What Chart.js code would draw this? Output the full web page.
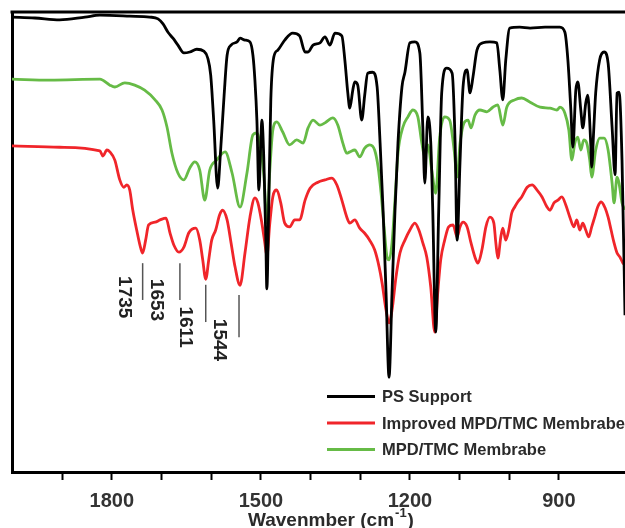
<!DOCTYPE html>
<html>
<head>
<meta charset="utf-8">
<script src="https://cdn.jsdelivr.net/npm/chart.js@4/dist/chart.umd.min.js"></script>
<style>
  html, body { margin: 0; padding: 0; background: #fff; }
  canvas { display: block; }
</style>
</head>
<body>
<canvas id="ftir" width="625" height="528"></canvas>
<script>
// FTIR spectra, wavenumber (cm-1) vs relative transmittance (%)
const psWave = [2001,1955,1905,1854,1824,1764,1724,1707,1697,1687,1677,1667,1655,1643,1629,1615,1607,1601,1595,1587,1581,1574,1568,1560,1548,1542,1532,1522,1516,1512,1508,1504,1500,1498,1494,1490,1488,1484,1480,1474,1466,1452,1436,1422,1411,1405,1395,1381,1371,1361,1351,1337,1331,1325,1321,1315,1311,1305,1297,1291,1285,1275,1266,1260,1254,1248,1242,1236,1230,1224,1216,1210,1200,1190,1180,1174,1170,1164,1158,1154,1148,1142,1136,1126,1115,1109,1105,1099,1093,1085,1079,1073,1065,1053,1039,1025,1019,1013,1007,999,979,958,928,898,888,882,876,872,866,862,856,852,846,842,836,834,830,826,818,809,801,793,787,783,779,773,767]
const psT = [98.9,98.7,98.3,98.9,99.3,99.1,98.9,98.5,97.4,95.6,94.3,92.8,91.1,91.3,91.9,91.5,90.0,86.3,76.5,61.7,70.0,81.9,90.6,92.8,93.5,94.3,93.9,93.5,90.6,85.2,76.5,61.3,72.2,76.5,67.8,50.4,39.8,59.1,80.9,90.2,91.7,93.9,95.4,94.8,91.3,91.3,92.8,93.3,94.6,92.8,95.4,94.8,89.6,82.4,79.1,83.0,84.8,84.1,76.5,81.9,86.7,86.9,83.7,71.5,56.9,38.9,20.6,38.9,56.9,71.5,83.7,86.9,93.3,93.5,91.1,75.0,62.8,77.2,71.5,56.9,30.4,56.9,82.4,87.8,86.7,71.5,50.4,67.8,83.7,87.4,82.4,85.9,91.7,93.3,93.5,93.3,87.4,80.9,89.6,96.5,96.7,96.5,96.7,96.7,95.6,89.6,78.7,70.6,83.0,84.8,78.7,74.8,80.2,81.9,71.5,66.3,74.3,82.4,89.6,91.3,88.9,75.0,64.6,82.4,82.6,67.8,34.1]

const impWave = [2001,1905,1824,1818,1810,1804,1794,1784,1776,1770,1764,1758,1750,1742,1738,1732,1726,1713,1703,1691,1683,1675,1665,1655,1645,1631,1623,1617,1611,1605,1599,1591,1583,1577,1568,1560,1552,1542,1532,1522,1512,1506,1498,1492,1488,1482,1476,1468,1460,1452,1442,1432,1422,1411,1401,1385,1371,1357,1347,1337,1327,1321,1311,1301,1291,1281,1271,1262,1256,1248,1242,1236,1228,1220,1210,1200,1190,1182,1174,1166,1158,1150,1144,1138,1130,1122,1113,1105,1099,1093,1085,1077,1069,1063,1055,1047,1039,1031,1027,1023,1017,1013,1007,1001,995,989,983,975,964,954,944,934,924,918,910,902,894,886,878,870,864,858,852,846,840,834,828,822,815,807,801,795,789,783,777,771,767]
const impT = [70.9,70.6,69.8,68.7,70.0,69.6,67.8,63.5,61.9,62.4,61.3,57.0,52.6,48.7,47.6,50.4,53.7,54.3,54.8,55.2,52.0,49.3,47.8,48.9,52.0,53.0,50.4,46.1,41.9,46.1,50.4,52.6,55.9,56.9,54.8,49.8,44.6,40.6,47.6,55.4,59.6,58.5,54.1,49.8,46.9,54.1,59.8,61.3,58.5,54.1,53.3,54.8,54.8,59.1,61.7,63.0,63.5,63.9,62.4,59.1,55.4,54.1,54.8,53.0,51.9,50.4,48.3,44.6,41.1,35.2,32.4,35.2,42.4,47.6,50.4,52.6,54.1,52.6,49.8,46.7,40.2,30.4,38.9,46.1,50.4,53.3,53.7,51.1,53.3,54.3,53.3,49.8,46.7,45.4,48.3,53.3,55.4,54.1,49.8,46.5,51.1,53.0,50.4,52.6,56.3,57.6,58.7,59.8,61.9,62.4,61.3,59.8,57.6,56.9,58.5,59.1,59.8,58.0,55.4,53.3,54.8,52.6,54.1,52.6,51.1,53.3,55.4,57.6,58.7,57.4,55.4,52.6,49.8,47.6,46.7,45.4,45.0]

const mpdWave = [2001,1925,1824,1804,1794,1774,1754,1734,1713,1699,1689,1679,1667,1655,1643,1633,1623,1613,1603,1589,1572,1558,1542,1528,1516,1508,1500,1494,1488,1482,1476,1468,1456,1442,1428,1415,1405,1395,1381,1371,1355,1345,1335,1327,1321,1311,1301,1291,1281,1271,1264,1258,1252,1246,1242,1236,1230,1224,1214,1204,1194,1184,1176,1170,1164,1156,1148,1140,1130,1120,1111,1105,1099,1091,1083,1077,1069,1059,1045,1033,1023,1013,1005,989,975,958,938,918,904,898,888,880,874,868,862,856,850,844,838,834,826,818,809,801,793,789,783,779,773,767]
const mpdT = [85.4,85.2,85.4,84.1,83.7,84.6,84.1,83.0,80.9,78.7,75.0,69.3,65.0,63.5,66.1,67.4,65.6,59.1,65.6,67.8,69.6,65.0,57.6,65.0,73.3,73.7,70.0,64.6,54.1,65.6,74.3,76.1,73.9,71.1,72.2,71.5,74.8,76.5,75.4,75.9,77.0,75.4,71.5,69.3,69.6,70.0,68.5,70.4,71.1,70.0,66.3,60.6,53.3,46.7,46.1,49.8,59.1,69.3,75.0,77.2,78.7,77.2,71.5,68.5,71.1,65.6,60.6,72.8,77.2,76.5,70.0,64.1,71.5,75.9,76.5,74.8,77.6,78.7,78.3,79.3,79.8,75.4,79.3,80.9,81.3,80.4,79.3,79.1,78.7,79.3,78.0,74.3,67.8,71.5,72.8,70.0,72.2,71.5,67.8,64.1,70.0,72.6,72.6,70.0,62.8,58.5,64.1,62.8,58.5,57.0]

// peak markers on the improved membrane curve
const peakLabels = ['1735', '1653', '1611', '1544']
const peakWave = [1738, 1663, 1611, 1544]
const peakLineTop = [45.4, 45.4, 40.7, 38.5]
const peakLineBottom = [37.4, 37.4, 32.6, 29.3]
const peakTextY = [38.0, 37.4, 31.5, 28.7]

const xTicks = [1800, 1500, 1200, 900]

const FONT = '"Liberation Sans", Arial, sans-serif'

function toPoints(xs, ys) {
  return xs.map((x, i) => ({ x: x, y: ys[i] }))
}

// top frame line
const frameTop = {
  id: 'frameTop',
  afterDraw(chart) {
    const { ctx, chartArea } = chart
    ctx.save()
    ctx.strokeStyle = '#000'
    ctx.lineWidth = 3
    ctx.beginPath()
    ctx.moveTo(chartArea.left - 1.5, chartArea.top)
    ctx.lineTo(chartArea.right, chartArea.top)
    ctx.stroke()
    ctx.restore()
  }
}

// vertical peak labels with tick lines
const peakMarks = {
  id: 'peakMarks',
  afterDatasetsDraw(chart) {
    const { ctx, scales } = chart
    const textShift = [-18, -24, -21, -20]
    ctx.save()
    peakLabels.forEach((label, i) => {
      const px = scales.x.getPixelForValue(peakWave[i])
      ctx.strokeStyle = '#555'
      ctx.lineWidth = 1.5
      ctx.beginPath()
      ctx.moveTo(px, scales.y.getPixelForValue(peakLineTop[i]))
      ctx.lineTo(px, scales.y.getPixelForValue(peakLineBottom[i]))
      ctx.stroke()

      ctx.save()
      ctx.translate(px + textShift[i], scales.y.getPixelForValue(peakTextY[i]))
      ctx.rotate(Math.PI / 2)
      ctx.fillStyle = '#222'
      ctx.font = 'bold 19px ' + FONT
      ctx.textAlign = 'center'
      ctx.textBaseline = 'middle'
      ctx.fillText(label, 0, 0)
      ctx.restore()
    })
    ctx.restore()
  }
}

// legend drawn inside the plot, lower right
const innerLegend = {
  id: 'innerLegend',
  afterDraw(chart) {
    const { ctx, chartArea } = chart
    const x0 = chartArea.left + 315
    const y0 = chartArea.top + 384.5
    const rowH = 26.5
    ctx.save()
    ctx.font = 'bold 16.5px ' + FONT
    ctx.textBaseline = 'middle'
    chart.data.datasets.forEach((ds, i) => {
      const y = y0 + i * rowH
      ctx.strokeStyle = ds.borderColor
      ctx.lineWidth = 3
      ctx.beginPath()
      ctx.moveTo(x0, y)
      ctx.lineTo(x0 + 48, y)
      ctx.stroke()
      ctx.fillStyle = '#2a2a2a'
      ctx.fillText(ds.label, x0 + 55, y + 1)
    })
    ctx.restore()
  }
}

// x axis title with superscript
const axisTitle = {
  id: 'axisTitle',
  afterDraw(chart) {
    const { ctx, chartArea } = chart
    const base = 526
    let x = chartArea.left + 236
    ctx.save()
    ctx.fillStyle = '#2a2a2a'
    ctx.textBaseline = 'alphabetic'
    ctx.font = 'bold 19px ' + FONT
    const main = 'Wavenmber (cm'
    ctx.fillText(main, x, base)
    x += ctx.measureText(main).width + 1
    ctx.font = 'bold 13px ' + FONT
    ctx.fillText('-1', x, base - 9)
    x += ctx.measureText('-1').width + 1
    ctx.font = 'bold 19px ' + FONT
    ctx.fillText(')', x, base)
    ctx.restore()
  }
}

const ctx = document.getElementById('ftir').getContext('2d')

new Chart(ctx, {
  type: 'line',
  data: {
    datasets: [
      {
        label: 'PS Support',
        data: toPoints(psWave, psT),
        borderColor: '#000000'
      },
      {
        label: 'Improved MPD/TMC Membrabe',
        data: toPoints(impWave, impT),
        borderColor: '#f0252a'
      },
      {
        label: 'MPD/TMC Membrabe',
        data: toPoints(mpdWave, mpdT),
        borderColor: '#66bb46'
      }
    ]
  },
  options: {
    responsive: false,
    devicePixelRatio: 1,
    animation: false,
    layout: { padding: { left: 12, top: 12, right: 0, bottom: 6 } },
    elements: {
      point: { radius: 0 },
      line: { borderWidth: 2.8, cubicInterpolationMode: 'monotone', fill: false }
    },
    plugins: {
      legend: { display: false },
      tooltip: { enabled: false }
    },
    scales: {
      x: {
        type: 'linear',
        reverse: true,
        min: 767,
        max: 2001,
        border: { display: true, color: '#000', width: 3 },
        grid: {
          drawOnChartArea: false,
          drawTicks: true,
          tickLength: 8,
          tickWidth: 2,
          tickColor: '#000'
        },
        afterBuildTicks(axis) {
          axis.ticks = axis.ticks.filter(t => t.value % 100 === 0)
        },
        ticks: {
          stepSize: 100,
          autoSkip: false,
          maxRotation: 0,
          minRotation: 0,
          padding: 9,
          color: '#333',
          font: { family: FONT, size: 20, weight: 'bold' },
          callback: (value) => xTicks.includes(value) ? String(value) : ''
        }
      },
      y: {
        min: 0,
        max: 100,
        border: { display: true, color: '#000', width: 3 },
        grid: { drawOnChartArea: false, drawTicks: false },
        ticks: { display: false }
      }
    }
  },
  plugins: [frameTop, peakMarks, innerLegend, axisTitle]
})
</script>
</body>
</html>
